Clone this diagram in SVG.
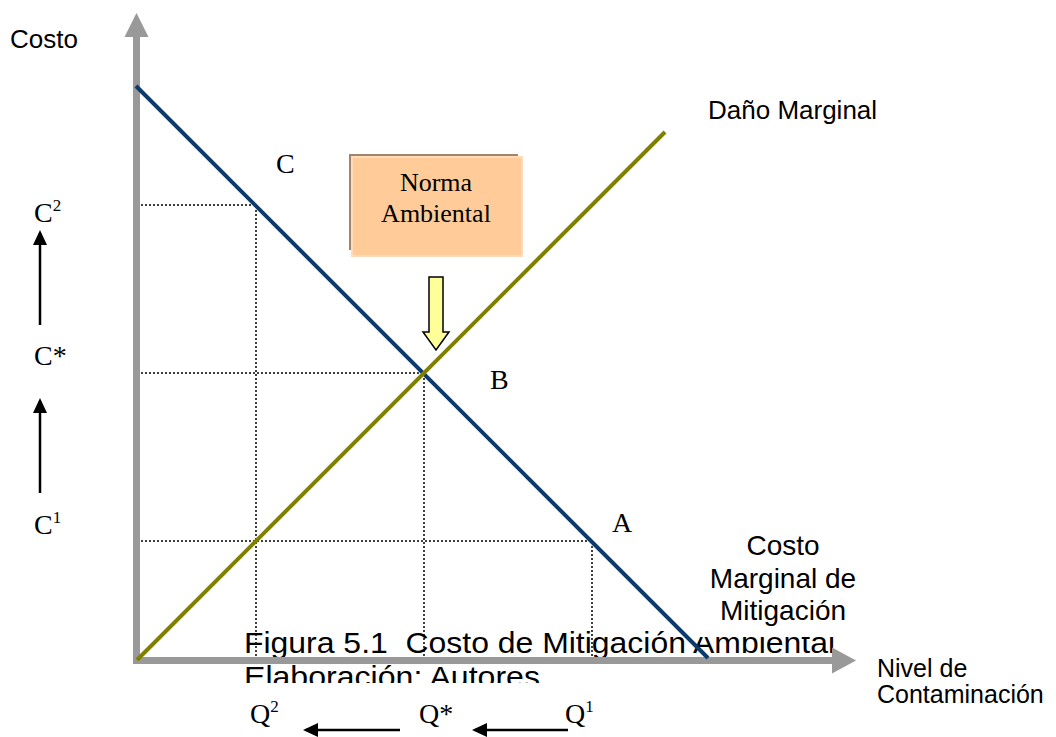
<svg xmlns="http://www.w3.org/2000/svg" width="1056" height="737" viewBox="0 0 1056 737">
<defs>
<style>
.sans{font-family:"Liberation Sans",Arial,sans-serif;fill:#000}
.serif{font-family:"Liberation Serif","Times New Roman",serif;fill:#000}
.dot{stroke:#000;stroke-width:1.5;stroke-dasharray:2 2;fill:none}
.axis{stroke:#999;stroke-width:7;fill:none}
.axhead{fill:#999}
.blk{stroke:#000;stroke-width:2.5;fill:none;marker-end:url(#ah)}
.sup{font-size:17px}
</style>
<marker id="ah" markerWidth="15" markerHeight="14" refX="12" refY="7" orient="auto" markerUnits="userSpaceOnUse"><path d="M0,0 L15,7 L0,14 z" fill="#000"/></marker>
<clipPath id="clipL2"><rect x="200" y="600" width="500" height="83"/></clipPath>
</defs>
<rect width="1056" height="737" fill="#fff"/>

<g id="caption">
<text class="sans" x="244" y="653" font-size="30" textLength="591" lengthAdjust="spacingAndGlyphs" xml:space="preserve">Figura 5.1  Costo de Mitigación Ambiental</text>
<text class="sans" x="244" y="687" font-size="30" textLength="296" lengthAdjust="spacingAndGlyphs" clip-path="url(#clipL2)">Elaboración: Autores</text>
</g>

<g id="costo-marginal-label">
<rect x="699" y="525" width="170" height="112" fill="#fff"/>
<text class="sans" font-size="28" text-anchor="middle"><tspan x="783" y="555">Costo</tspan><tspan x="783" y="588">Marginal de</tspan><tspan x="783" y="620">Mitigación</tspan></text>
</g>

<g id="guides">
<polyline class="dot" points="137,205 256,205 256,660"/>
<polyline class="dot" points="137,373 424,373 424,660"/>
<polyline class="dot" points="137,541 592,541 592,660"/>
</g>

<g id="axes">
<line class="axis" x1="136.5" y1="35" x2="136.5" y2="664"/>
<polygon class="axhead" points="136.5,13 148.5,37 124.5,37"/>
<line class="axis" x1="133" y1="660.5" x2="834" y2="660.5"/>
<polygon class="axhead" points="856,660.5 832,647.5 832,673.5"/>
</g>

<g id="curves">
<line id="costo-marginal-mitigacion" x1="136" y1="86" x2="708" y2="658" stroke="#0b3a6b" stroke-width="4"/>
<line id="dano-marginal" x1="137" y1="660" x2="665" y2="132" stroke="#7f7f00" stroke-width="4"/>
</g>

<g id="norma-ambiental">
<rect x="349" y="154" width="169" height="96" fill="#a3836b"/>
<rect x="352" y="157" width="170" height="99" fill="#ffcc99" stroke="#ffdcb9" stroke-width="2"/>
<text class="serif" font-size="26" text-anchor="middle"><tspan x="436" y="191">Norma</tspan><tspan x="436" y="222">Ambiental</tspan></text>
</g>

<g id="yellow-arrow">
<polygon points="429,277 443,277 443,332 449,332 436,350 423,332 429,332" fill="#ffff99" stroke="#000" stroke-width="1.5" stroke-linejoin="miter"/>
</g>

<g id="connectors">
<line class="blk" x1="40" y1="325" x2="40" y2="233"/>
<line class="blk" x1="40" y1="493" x2="40" y2="401"/>
<line class="blk" x1="400" y1="730" x2="306" y2="730"/>
<line class="blk" x1="568" y1="730" x2="475" y2="730"/>
</g>

<g id="labels">
<text class="sans" x="10" y="48" font-size="26">Costo</text>
<text class="sans" x="708" y="119" font-size="26">Daño Marginal</text>
<text class="sans" font-size="25"><tspan x="877" y="677">Nivel de</tspan><tspan x="877" y="703">Contaminación</tspan></text>
<text class="serif" x="276" y="173" font-size="28">C</text>
<text class="serif" x="490" y="389" font-size="28">B</text>
<text class="serif" x="612" y="532" font-size="28">A</text>
<text class="serif" x="34" y="222" font-size="28">C<tspan class="sup" dy="-11">2</tspan></text>
<text class="serif" x="34" y="365" font-size="28">C*</text>
<text class="serif" x="34" y="534" font-size="28">C<tspan class="sup" dy="-11">1</tspan></text>
<text class="serif" x="250" y="723" font-size="28">Q<tspan class="sup" dy="-11">2</tspan></text>
<text class="serif" x="419" y="723" font-size="28">Q*</text>
<text class="serif" x="565" y="723" font-size="28">Q<tspan class="sup" dy="-11">1</tspan></text>
</g>
</svg>
